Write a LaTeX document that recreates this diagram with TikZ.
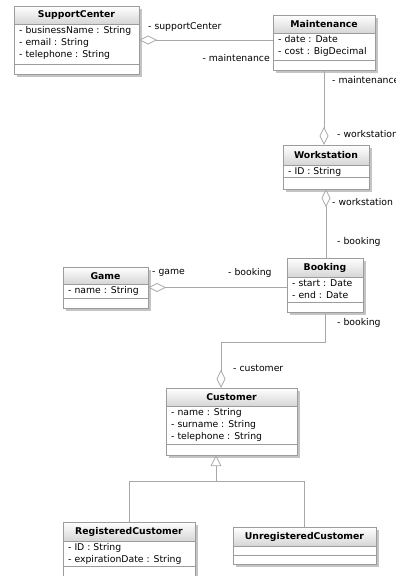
\documentclass[tikz,border=0pt]{standalone}
\usepackage{fontspec}
\setmainfont{DejaVu Sans}
\usetikzlibrary{arrows.meta,fit,calc}
\definecolor{edgec}{HTML}{A8A8A8}
\definecolor{framec}{HTML}{9C9C9C}
\definecolor{shadowc}{HTML}{C4C4C4}
\definecolor{headc}{HTML}{D6D6D6}
\tikzset{
  x=1pt, y=-1pt,
  txt/.style={font=\fontsize{9.3}{12}\selectfont, inner sep=0pt},
  ttl/.style={font=\fontsize{9.3}{12}\selectfont\bfseries, inner sep=0pt},
  rolelabel/.style={txt, anchor=west},
  link/.style={draw=edgec, line width=0.8pt},
  agg/.style={link, {Diamond[open, length=18pt, width=9pt, fill=white]}-},
  gen/.style={link, {Triangle[open, length=11pt, width=11pt, fill=white]}-}
}
% class box: name, left, top, right, bottom, header bottom, attribute bottom, title, attributes
\newcommand\umlclass[9]{%
  \fill[shadowc] (#2+2.5,#3+2.5) rectangle (#4+2.5,#5+2.5);
  \fill[white] (#2,#3) rectangle (#4,#5);
  \shade[top color=white, bottom color=headc] (#2,#3) rectangle (#4,#6);
  \draw[framec, line width=0.7pt] (#2,#3) rectangle (#4,#5);
  \draw[framec, line width=0.7pt] (#2,#6) -- (#4,#6) (#2,#7) -- (#4,#7);
  \node[ttl] (#1-title) at ({(#2+#4)/2},{(#3+#6)/2+0.5}) {#8};
  \node[txt, anchor=north west, align=left] (#1-attrs) at (#2+5,#6+2.5) {#9};
  \node[fit={(#2,#3) (#4,#5)}, inner sep=0pt] (#1) {};
}
\begin{document}
\begin{tikzpicture}
\useasboundingbox (0,0) rectangle (396,576);
\clip (0,0) rectangle (396,576);

% classes
\umlclass{sc}{14}{6}{139}{74}{24}{64}{SupportCenter}{- businessName : String\\- email : String\\- telephone : String}
\umlclass{mt}{273}{15}{375}{70}{33}{60}{Maintenance}{- date : Date\\- cost : BigDecimal}
\umlclass{ws}{283}{145}{369}{189}{165}{177}{Workstation}{- ID : String}
\umlclass{bk}{287}{258}{363}{312}{277}{302}{Booking}{- start : Date\\- end : Date}
\umlclass{gm}{63}{267}{148}{308}{284}{298}{Game}{- name : String}
\umlclass{cu}{166}{388}{297}{455}{406}{444}{Customer}{- name : String\\- surname : String\\- telephone : String}
\umlclass{rc}{63}{522}{195}{590}{541}{566}{RegisteredCustomer}{- ID : String\\- expirationDate : String}
\umlclass{uc}{233}{527}{376}{564}{546}{555}{UnregisteredCustomer}{}

% associations
\draw[agg] (sc.east) -- (sc.east -| mt.west);
\draw[agg] (mt.south |- ws.north) -- (mt.south);
\draw[agg] (ws.south) -- (ws.south |- bk.north);
\draw[agg] (gm.east) -- (gm.east -| bk.west);
\draw[agg] ([xshift=-10.5pt]cu.north) -- ++(0,-45) -| (bk.south);

% generalization
\draw[gen] ([xshift=-15.5pt]cu.south) -- ++(0,26) coordinate (split) -| (rc.north);
\draw[link] (split) -| (uc.north);

% role names
\node[rolelabel] (l1) at (148,27) {- supportCenter};
\node[txt, anchor=east] (l2) at (270,58) {- maintenance};
\node[rolelabel] (l3) at (332,80) {- maintenance};
\node[rolelabel] (l4) at (337,134) {- workstation};
\node[rolelabel] (l5) at (332,202) {- workstation};
\node[rolelabel] (l6) at (337,242) {- booking};
\node[rolelabel] (l7) at (152,273) {- game};
\node[rolelabel] (l8) at (228,273) {- booking};
\node[rolelabel] (l9) at (337,323) {- booking};
\node[rolelabel] (l10) at (233,368) {- customer};
\end{tikzpicture}
\end{document}
